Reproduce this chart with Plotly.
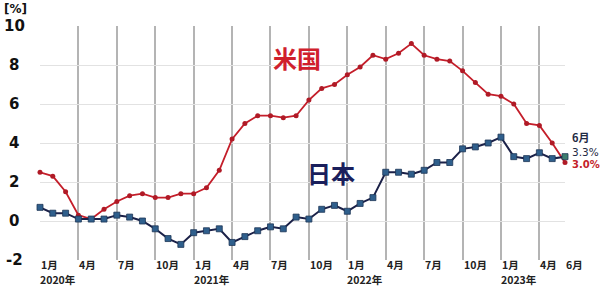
import plotly.graph_objects as go

# Monthly data Jan 2020 .. Jun 2023 (YoY CPI, %)
months = list(range(42))
us_cpi = [2.5, 2.3, 1.5, 0.3, 0.1, 0.6, 1.0, 1.3, 1.4, 1.2, 1.2, 1.4,
          1.4, 1.7, 2.6, 4.2, 5.0, 5.4, 5.4, 5.3, 5.4, 6.2, 6.8, 7.0,
          7.5, 7.9, 8.5, 8.3, 8.6, 9.1, 8.5, 8.3, 8.2, 7.7, 7.1, 6.5,
          6.4, 6.0, 5.0, 4.9, 4.0, 3.0]
jp_cpi = [0.7, 0.4, 0.4, 0.1, 0.1, 0.1, 0.3, 0.2, 0.0, -0.4, -0.9, -1.2,
          -0.6, -0.5, -0.4, -1.1, -0.8, -0.5, -0.3, -0.4, 0.2, 0.1, 0.6, 0.8,
          0.5, 0.9, 1.2, 2.5, 2.5, 2.4, 2.6, 3.0, 3.0, 3.7, 3.8, 4.0,
          4.3, 3.3, 3.2, 3.5, 3.2, 3.3]
month_tick_pos = [0, 3, 6, 9, 12, 15, 18, 21, 24, 27, 30, 33, 36, 39, 41]
month_tick_txt = ["1月", "4月", "7月", "10月", "1月", "4月", "7月", "10月",
                  "1月", "4月", "7月", "10月", "1月", "4月", "6月"]
year_pos = [0, 12, 24, 36]
year_txt = ["2020年", "2021年", "2022年", "2023年"]
y_ticks = [-2, 0, 2, 4, 6, 8, 10]

RED = "#c41e2a"
NAVY = "#1b2148"
BLUE_M = "#2f5f8c"
CJK = "Noto Sans CJK JP"

fig = go.Figure()
fig.add_trace(go.Scatter(
    x=months, y=us_cpi, mode="lines+markers",
    line=dict(color=RED, width=1.8),
    marker=dict(symbol="circle", size=5, color="#b01a26"),
    cliponaxis=False, showlegend=False))
jp_colors = [BLUE_M] * (len(jp_cpi) - 1) + ["#3d7d6e"]
fig.add_trace(go.Scatter(
    x=months, y=jp_cpi, mode="lines+markers",
    line=dict(color=NAVY, width=2),
    marker=dict(symbol="square", size=6, color=jp_colors,
                line=dict(color="#1d3556", width=0.8)),
    cliponaxis=False, showlegend=False))

anns = []
for p, t in zip(month_tick_pos, month_tick_txt):
    anns.append(dict(x=p, y=-0.0192, xref="x", yref="paper", text=t,
                     xanchor="left", yanchor="middle", showarrow=False, xshift=-1,
                     font=dict(family=CJK, size=10.5, color="#222", weight="bold")))
for p, t in zip(year_pos, year_txt):
    anns.append(dict(x=p, y=-0.0833, xref="x", yref="paper", text=t,
                     xanchor="left", yanchor="middle", showarrow=False, xshift=-2,
                     font=dict(family=CJK, size=10.5, color="#222", weight="bold")))
for v in y_ticks:
    anns.append(dict(x=0, y=v, xref="paper", yref="y", text=str(v),
                     xanchor="center", yanchor="middle", showarrow=False, xshift=-26,
                     font=dict(family="DejaVu Sans", size=15, color="#111", weight="bold")))
anns.append(dict(x=0, y=1, xref="paper", yref="paper", text="[%]",
                 xanchor="center", yanchor="middle", showarrow=False, xshift=-25, yshift=17,
                 font=dict(family="DejaVu Sans", size=12, color="#111", weight="bold")))
anns.append(dict(x=20.1, y=8.4, xref="x", yref="y", text="米国",
                 xanchor="center", yanchor="middle", showarrow=False,
                 font=dict(family=CJK, size=24, color="#d0202c", weight="bold")))
anns.append(dict(x=22.7, y=2.5, xref="x", yref="y", text="日本",
                 xanchor="center", yanchor="middle", showarrow=False,
                 font=dict(family=CJK, size=24, color="#1a1f5c", weight="bold")))
anns.append(dict(x=1, y=0.526, xref="paper", yref="paper", text="6月",
                 xanchor="left", yanchor="middle", showarrow=False, xshift=5,
                 font=dict(family=CJK, size=11, color="#1f2a44", weight="bold")))
anns.append(dict(x=1, y=0.4615, xref="paper", yref="paper", text=f"{jp_cpi[-1]:.1f}%",
                 xanchor="left", yanchor="middle", showarrow=False, xshift=5,
                 font=dict(family="DejaVu Sans", size=10.5, color="#1f2a44")))
anns.append(dict(x=1, y=0.406, xref="paper", yref="paper", text=f"{us_cpi[-1]:.1f}%",
                 xanchor="left", yanchor="middle", showarrow=False, xshift=5,
                 font=dict(family="DejaVu Sans", size=10, color=RED, weight="bold")))

fig.update_layout(
    width=600, height=287,
    margin=dict(l=40, r=35, t=26, b=27),
    paper_bgcolor="white", plot_bgcolor="white",
    annotations=anns,
    xaxis=dict(range=[0, 41], tickvals=list(range(0, 40, 3)), showticklabels=False,
               showgrid=True, gridcolor="#b4b4b4", gridwidth=1.5, zeroline=False,
               showline=False, ticks=""),
    yaxis=dict(range=[-2, 10], tickvals=y_ticks, showticklabels=False,
               showgrid=True, gridcolor="#e2e2e2", gridwidth=1, zeroline=False,
               showline=False, ticks=""),
)
fig.write_html("out.html")
